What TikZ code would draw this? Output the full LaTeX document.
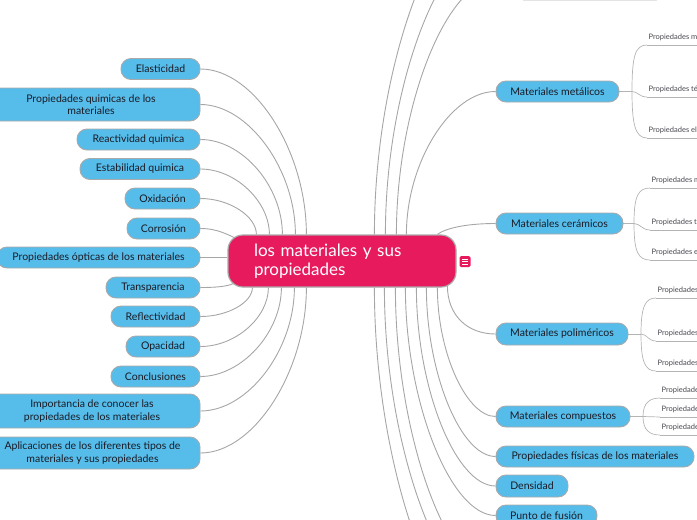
\documentclass[tikz,border=0pt]{standalone}
\usepackage{fontspec}
\setmainfont{Lato}
\usetikzlibrary{calc,backgrounds}
\definecolor{nodeblue}{HTML}{56BDEB}
\definecolor{nodeborder}{HTML}{A9A9A9}
\definecolor{centerpink}{HTML}{E71A5E}
\definecolor{linegray}{HTML}{A6A6A6}
\definecolor{sublinegray}{HTML}{B4B4B4}
\definecolor{textdark}{HTML}{1A1A24}
\definecolor{faintgray}{HTML}{E4E4E4}
\begin{document}
\begin{tikzpicture}[x=1pt,y=-1pt,
  topic/.style={draw=nodeborder, line width=0.9pt, fill=nodeblue, rounded corners=10pt, inner sep=0pt, align=center, text=textdark, font=\fontsize{10.5}{12.5}\selectfont},
  central/.style={draw=nodeborder, line width=1.2pt, fill=centerpink, rounded corners=15pt, minimum width=228pt, minimum height=52pt, text width=176pt, align=left, inner xsep=26pt, inner ysep=0pt, text=white, font=\fontsize{17}{19.5}\selectfont},
  conn/.style={draw=linegray, line width=0.9pt},
  sub/.style={draw=sublinegray, line width=0.7pt},
  subnode/.style={anchor=south west, inner xsep=1.5pt, inner ysep=3.3pt, text depth=1.6pt, font=\fontsize{7.5}{9}\selectfont, text=textdark!80},
]
\useasboundingbox (0,0) rectangle (697,520);
\clip (0,0) rectangle (697,520);

% central
\node[central] (center) at (342,261) {los materiales y sus\\propiedades};
\node[fill=centerpink, rounded corners=1.5pt, minimum width=11pt, minimum height=11pt, inner sep=0pt] (icon) at (465,261.5) {};
\foreach \dy in {-2.5,0,2.5}
  \draw[white, line width=0.8pt] ($(icon.center)+(-3,\dy)$) -- ++(6,0);

% left topics
\node[topic, minimum width=79pt, minimum height=21pt] (elast) at (160.5,69) {Elasticidad};
\node[topic, minimum width=218pt, minimum height=33pt] (quim) at (91,104.5) {Propiedades quimicas de los\\materiales};
\node[topic, minimum width=123pt, minimum height=21pt] (react) at (138.5,139.5) {Reactividad quimica};
\node[topic, minimum width=120pt, minimum height=21pt] (estab) at (140,169) {Estabilidad quimica};
\node[topic, minimum width=75pt, minimum height=21pt] (oxid) at (162.5,198.5) {Oxidación};
\node[topic, minimum width=73pt, minimum height=21pt] (corr) at (163.5,228.5) {Corrosión};
\node[topic, minimum width=203pt, minimum height=21pt] (optic) at (98.5,257.5) {Propiedades ópticas de los materiales};
\node[topic, minimum width=94pt, minimum height=21pt] (transp) at (153,287.5) {Transparencia};
\node[topic, minimum width=89pt, minimum height=21pt] (reflect) at (155.5,316.5) {Reflectividad};
\node[topic, minimum width=74pt, minimum height=21pt] (opac) at (163,346.5) {Opacidad};
\node[topic, minimum width=89pt, minimum height=21pt] (concl) at (155.5,376.5) {Conclusiones};
\node[topic, minimum width=216pt, minimum height=34pt] (import) at (92,411) {Importancia de conocer las\\propiedades de los materiales};
\node[topic, minimum width=215pt, minimum height=32pt] (aplic) at (92.5,453) {Aplicaciones de los diferentes tipos de\\materiales y sus propiedades};

% right topics
\node[topic, minimum width=123pt, minimum height=21pt] (metal) at (557.5,91.5) {Materiales metálicos};
\node[topic, minimum width=127pt, minimum height=21pt] (ceram) at (559.5,223.5) {Materiales cerámicos};
\node[topic, minimum width=132pt, minimum height=22pt] (polim) at (562,334) {Materiales poliméricos};
\node[topic, minimum width=134pt, minimum height=21pt] (compu) at (563,416.5) {Materiales compuestos};
\node[topic, minimum width=198pt, minimum height=21pt] (fisic) at (595,456.5) {Propiedades físicas de los materiales};
\node[topic, minimum width=72pt, minimum height=22pt] (dens) at (532,486) {Densidad};
\node[topic, minimum width=101pt, minimum height=21pt] (fusion) at (546.5,515.5) {Punto de fusión};

% sub topics
\node[subnode] (m1) at (647,45) {Propiedades mecánicas};
\node[subnode] (m2) at (647,97) {Propiedades térmicas};
\node[subnode] (m3) at (647,138) {Propiedades eléctricas};
\node[subnode] (c1) at (650,188) {Propiedades mecánicas};
\node[subnode] (c2) at (650,230) {Propiedades térmicas};
\node[subnode] (c3) at (650,260) {Propiedades eléctricas};
\node[subnode] (p1) at (656,298) {Propiedades mecánicas};
\node[subnode] (p2) at (656,341) {Propiedades térmicas};
\node[subnode] (p3) at (656,371) {Propiedades eléctricas};
\node[subnode] (k1) at (660,398) {Propiedades mecánicas};
\node[subnode] (k2) at (660,417) {Propiedades térmicas};
\node[subnode] (k3) at (660,435) {Propiedades eléctricas};
\foreach \n in {m1,m2,m3,c1,c2,c3,p1,p2,p3,k1,k2,k3}
  \draw[sub] (\n.south west) -- ([xshift=60pt]\n.south east);

\coordinate (mb) at (632,91.5);
\coordinate (cb) at (634,223.5);
\coordinate (pb) at (641,334);
\coordinate (kb) at (643,416.5);
\coordinate (up1) at (496,-100);
\coordinate (up2) at (496,-60);
\coordinate (up3) at (496,-20);
\coordinate (dn1) at (496,640);
\coordinate (dn2) at (496,600);
\coordinate (dn3) at (496,575);

\begin{scope}[on background layer]
\clip (0,0) rectangle (697,520);
\draw[faintgray, line width=0.8pt] (523,0.5) -- (657,0.5);
% left, top edge
\draw[conn] (elast.east) .. controls +(54,0) and +(0,-83) .. ([xshift=79pt]center.north west);
\draw[conn] (quim.east) .. controls +(48,0) and +(0,-65) .. ([xshift=68pt]center.north west);
\draw[conn] (react.east) .. controls +(42,0) and +(0,-48) .. ([xshift=55pt]center.north west);
\draw[conn] (estab.east) .. controls +(35,0) and +(0,-33) .. ([xshift=42pt]center.north west);
\draw[conn] (oxid.east) .. controls +(29,0) and +(0,-18) .. ([xshift=29pt]center.north west);
\draw[conn] (corr.east) .. controls +(18,0) and +(-8,-3) .. ([xshift=9pt,yshift=-4pt]center.north west);
\draw[conn] (optic.east) -- (optic.east -| center.west);
% left, bottom edge
\draw[conn] (transp.east) .. controls +(15,0) and +(-7,3) .. ([xshift=6pt,yshift=4pt]center.south west);
\draw[conn] (reflect.east) .. controls +(27,0) and +(0,15) .. ([xshift=25pt]center.south west);
\draw[conn] (opac.east) .. controls +(35,0) and +(0,30) .. ([xshift=41pt]center.south west);
\draw[conn] (concl.east) .. controls +(41,0) and +(0,45) .. ([xshift=54pt]center.south west);
\draw[conn] (import.east) .. controls +(48,0) and +(0,62) .. ([xshift=67pt]center.south west);
\draw[conn] (aplic.east) .. controls +(54,0) and +(0,83) .. ([xshift=79pt]center.south west);
% right, top edge
\draw[conn] ([xshift=147pt]center.north west) .. controls +(0,-167.5) and +(-60.5,0) .. (up1);
\draw[conn] ([xshift=158pt]center.north west) .. controls +(0,-147.5) and +(-55,0) .. (up2);
\draw[conn] ([xshift=169pt]center.north west) .. controls +(0,-127.5) and +(-49.5,0) .. (up3);
\draw[conn] ([xshift=179pt]center.north west) .. controls +(0,-72) and +(-45,0) .. (metal.west);
\draw[conn] ([xshift=210pt]center.north west) .. controls +(8,-6) and +(-30,0) .. (ceram.west);
% right, bottom edge
\draw[conn] ([xshift=220pt,yshift=2pt]center.south west) .. controls +(0,30) and +(-28,0) .. (polim.west);
\draw[conn] ([xshift=210pt]center.south west) .. controls +(0,65) and +(-29,0) .. (compu.west);
\draw[conn] ([xshift=199pt]center.south west) .. controls +(0,85) and +(-35,0) .. (fisic.west);
\draw[conn] ([xshift=189pt]center.south west) .. controls +(0,100) and +(-40,0) .. (dens.west);
\draw[conn] ([xshift=178pt]center.south west) .. controls +(0,114) and +(-45,0) .. (fusion.west);
\draw[conn] ([xshift=168pt]center.south west) .. controls +(0,144) and +(-50,0) .. (dn3);
\draw[conn] ([xshift=157pt]center.south west) .. controls +(0,157) and +(-55,0) .. (dn2);
\draw[conn] ([xshift=147pt]center.south west) .. controls +(0,177) and +(-60,0) .. (dn1);
% sub branches
\draw[sub] (metal.east) -- (mb);
\draw[sub] (mb) .. controls +(0,-35) and +(-12,0) .. (m1.south west);
\draw[sub] (mb) .. controls +(6,0) and +(-8,0) .. (m2.south west);
\draw[sub] (mb) .. controls +(0,32) and +(-12,0) .. (m3.south west);
\draw[sub] (ceram.east) -- (cb);
\draw[sub] (cb) .. controls +(0,-27) and +(-12,0) .. (c1.south west);
\draw[sub] (cb) .. controls +(6,0) and +(-8,0) .. (c2.south west);
\draw[sub] (cb) .. controls +(0,28) and +(-12,0) .. (c3.south west);
\draw[sub] (polim.east) -- (pb);
\draw[sub] (pb) .. controls +(0,-27) and +(-11,0) .. (p1.south west);
\draw[sub] (pb) .. controls +(6,0) and +(-8,0) .. (p2.south west);
\draw[sub] (pb) .. controls +(0,28) and +(-11,0) .. (p3.south west);
\draw[sub] (compu.east) -- (kb);
\draw[sub] (kb) .. controls +(0,-14) and +(-10,0) .. (k1.south west);
\draw[sub] (kb) -- (k2.south west);
\draw[sub] (kb) .. controls +(0,14) and +(-10,0) .. (k3.south west);
\end{scope}
\end{tikzpicture}
\end{document}
